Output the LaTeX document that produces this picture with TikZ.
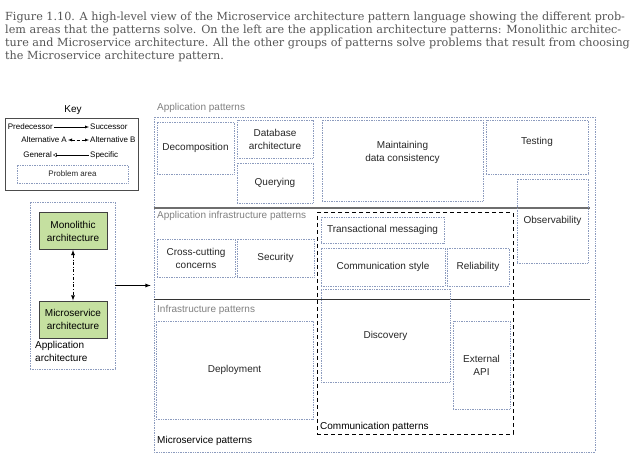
\documentclass[tikz,border=0pt]{standalone}
\usepackage{fontspec}
\setmainfont{Liberation Sans}
\newfontfamily\capfont{DejaVu Serif}
\usepackage{tikz}
\usetikzlibrary{arrows.meta}
\tikzset{>=latex}
\definecolor{probline}{RGB}{140,155,190}
\definecolor{archgreen}{RGB}{197,224,160}
\definecolor{bandgray}{RGB}{110,110,110}
\definecolor{captext}{RGB}{85,85,85}

\begin{document}
\begin{tikzpicture}[
    x = 1pt, y = -1pt,
    pa/.style = {draw = probline, densely dotted, line width = 0.7pt, inner sep = 0pt, align = center, text = black!85, font = \fontsize{10}{13}\selectfont},
    arch/.style = {draw = black!75, fill = archgreen, line width = 0.8pt, minimum width = 68pt, minimum height = 37pt, align = center, inner sep = 0pt, font = \fontsize{10}{13}\selectfont},
    band/.style = {font = \fontsize{10}{12}\selectfont, text = gray, anchor = west, inner sep = 0pt},
    keytxt/.style = {font = \fontsize{8}{9}\selectfont, inner sep = 1pt},
    b0/.style = {line width = 2pt, bandgray},
    b1/.style = {line width = 1pt, black!80},
]
\useasboundingbox (0,0) rectangle (640,462);

% caption
\node[anchor = north west, align = left, inner sep = 0pt, text = captext, font = \capfont\fontsize{11.2}{13}\selectfont] (cap) at (5,12)
  {Figure 1.10. A high-level view of the Microservice architecture pattern language showing the different prob-\\
   lem areas that the patterns solve. On the left are the application architecture patterns: Monolithic architec-\\
   ture and Microservice architecture. All the other groups of patterns solve problems that result from choosing\\
   the Microservice architecture pattern.};

% key
\node[font = \fontsize{10}{12}\selectfont] (keyttl) at (73,110) {Key};
\node[draw = black!70, line width = 0.8pt, minimum width = 133pt, minimum height = 72pt] (key) at (71.5,154) {};
\node[keytxt, anchor = east] (pred) at (54,127) {Predecessor};
\node[keytxt, anchor = west] (succ) at (89,127) {Successor};
\draw[->] (pred) -- (succ);
\node[keytxt, anchor = east] (altA) at (68,140) {Alternative A};
\node[keytxt, anchor = west] (altB) at (89,140) {Alternative B};
\draw[<->, densely dashed] (altA) -- (altB);
\node[keytxt, anchor = east] (gen) at (53,155) {General};
\node[keytxt, anchor = west] (spec) at (89,155) {Specific};
\draw[{Triangle[open]}-] (gen) -- (spec);
\node[pa, minimum width = 111pt, minimum height = 18pt, font = \fontsize{8}{9}\selectfont] (prob) at (72.5,174) {Problem area};

% application architecture
\node[pa, minimum width = 85pt, minimum height = 167pt] (apparch) at (72.5,285.5) {};
\node[arch] (mono) at (73,231) {Monolithic\\architecture};
\node[arch] (micro) at (73,319.5) {Microservice\\architecture};
\draw[<->, dash dot, thick] (mono) -- (micro);
\node[anchor = north west, align = left, inner sep = 0pt, font = \fontsize{10}{13}\selectfont] (aalbl) at (35,341) {Application\\architecture};

% microservice patterns
\node[pa, minimum width = 441pt, minimum height = 335pt] (msp) at (374.5,284.5) {};
\draw[->, thick, shorten > = 3pt] (apparch) -- (msp.west |- apparch);
\node[band, text = black] (msplbl) at (157,441) {Microservice patterns};
\node[band] (aplbl) at (157,108) {Application patterns};
\node[band] (ailbl) at (157,216) {Application infrastructure patterns};
\node[band] (iplbl) at (157,310) {Infrastructure patterns};
\draw[b0] (msp.west |- 0,208.5) -- (590,208.5);
\draw[b1] (msp.west |- 0,299.5) -- (590,299.5);

% communication patterns
\node[draw, dash pattern = on 4pt off 3pt, line width = 1pt, minimum width = 196pt, minimum height = 221pt] (comm) at (415,323.5) {};
\node[band, text = black] (commlbl) at (320,427) {Communication patterns};

% application patterns
\node[pa, minimum width = 77pt, minimum height = 52pt] (decomp) at (195.5,148) {Decomposition};
\node[pa, minimum width = 76pt, minimum height = 38pt] (dbarch) at (275,139) {Database\\architecture};
\node[pa, minimum width = 76pt, minimum height = 40pt] (query) at (275,183) {Querying};
\node[pa, minimum width = 161pt, minimum height = 81pt, label = {[align = center, font = \fontsize{10}{13}\selectfont, text = black!85, yshift = 8pt]center:Maintaining\\data consistency}] (maint) at (402.5,160.5) {};
\node[pa, minimum width = 102pt, minimum height = 54pt, label = {[font = \fontsize{10}{13}\selectfont, text = black!85, yshift = 5pt]center:Testing}] (test) at (537,147) {};
\node[pa, minimum width = 71pt, minimum height = 84pt] (observ) at (552.5,221) {Observability};

% application infrastructure patterns
\node[pa, minimum width = 78pt, minimum height = 38pt] (cross) at (196,258) {Cross-cutting\\concerns};
\node[pa, minimum width = 77pt, minimum height = 38pt] (secur) at (275.5,258) {Security};
\node[pa, minimum width = 123pt, minimum height = 26pt] (trans) at (382.5,230) {Transactional messaging};
\node[pa, minimum width = 124pt, minimum height = 38pt] (cstyle) at (383,267) {Communication style};
\node[pa, minimum width = 62pt, minimum height = 38pt] (reliab) at (478,267) {Reliability};

% infrastructure patterns
\node[pa, minimum width = 129pt, minimum height = 93pt] (disc) at (385.5,335.5) {Discovery};
\node[pa, minimum width = 57pt, minimum height = 88pt] (extapi) at (481.5,365) {External\\API};
\node[pa, minimum width = 157pt, minimum height = 98pt] (deploy) at (234.5,370) {Deployment};

\end{tikzpicture}
\end{document}
